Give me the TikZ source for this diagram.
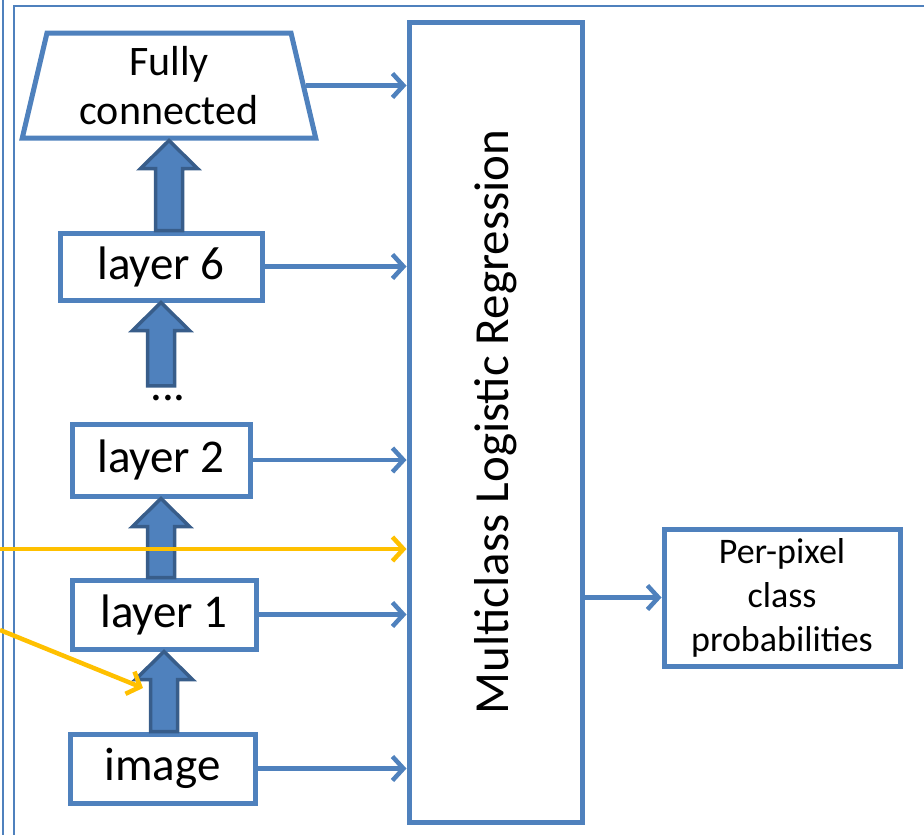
\documentclass[tikz,border=0pt]{standalone}
\usepackage{fontspec}
\setmainfont{Carlito}
\usetikzlibrary{shapes.geometric,arrows.meta,calc}
\definecolor{boxblue}{HTML}{4F81BD}
\definecolor{edgeblue}{HTML}{385D8A}
\definecolor{feedyellow}{HTML}{FFC000}
\begin{document}
\begin{tikzpicture}[x=1pt, y=-1pt,
        box/.style={draw=boxblue, line width=5pt, fill=white, inner sep=0pt, font=\fontsize{47}{55}\selectfont},
        link/.style={draw=boxblue, line width=4.5pt, -{Straight Barb[length=11pt,width=24pt]}},
        feed/.style={draw=feedyellow, line width=4.5pt, -{Straight Barb[length=11pt,width=24pt]}},
        fat/.style={fill=boxblue, draw=edgeblue, line width=3.5pt, line join=miter,
            to path={let \p1=(\tikztostart), \p2=(\tikztotarget) in
                (\x2-13.5pt,\y1) -- (\x2+13.5pt,\y1) -- (\x2+13.5pt,\y2-28pt) -- (\x2+28.5pt,\y2-28pt)
                -- (\x2,\y2) -- (\x2-28.5pt,\y2-28pt) -- (\x2-13.5pt,\y2-28pt) -- cycle}}]
        \useasboundingbox (0,0) rectangle (924,835);
        \draw[boxblue, line width=2.5pt] (3,0) -- (3,840) (14,840) |- (930,6);

        % the stack of layers
        \node[box, trapezium, trapezium left angle=77, trapezium right angle=77, trapezium stretches=true,
            minimum width=294pt, minimum height=105pt, align=center, font=\fontsize{42}{49}\selectfont]
            (fc) at (169,85.5) {Fully\\connected};
        \node[box, minimum width=202pt, minimum height=67pt] (l6) at (161,266.5) {layer 6};
        \node[inner sep=9pt, font=\fontsize{47}{55}\selectfont] (dots) at (168,398) {...};
        \node[box, minimum width=178pt, minimum height=72pt] (l2) at (161,460) {layer 2};
        \node[box, minimum width=184pt, minimum height=69pt] (l1) at (164,614.5) {layer 1};
        \node[box, minimum width=185pt, minimum height=69pt] (img) at (162.5,768.5) {image};

        \draw[fat] (img.north) to (l1.south);
        \draw[fat] (l1.north) to (l2.south);
        \draw[fat] (dots.north) to (l6.south);
        \draw[fat] (l6.north) to (fc.south);

        % classifier and output
        \node[box, minimum width=173pt, minimum height=800pt] (mlr) at (495.5,422) {};
        \node[rotate=90, font=\fontsize{49}{55}\selectfont] at (mlr.center) {Multiclass Logistic Regression};
        \node[box, minimum width=236pt, minimum height=137pt, align=center, font=\fontsize{36}{44}\selectfont]
            (pp) at (782,597.5) {Per-pixel\\class\\probabilities};

        \foreach \n in {fc, l6, l2, l1, img}
            \draw[link] (\n.east) -- (\n.east -| mlr.west);
        \draw[link] (mlr.east |- pp.west) -- (pp.west);

        % extra inputs
        \coordinate (ya) at (0,549);
        \coordinate (yb) at (0,630);
        \coordinate (yt) at (143,688);
        \draw[feed] (ya) -- (ya -| mlr.west);
        \draw[feed] (yb) -- (yt);
\end{tikzpicture}
\end{document}
